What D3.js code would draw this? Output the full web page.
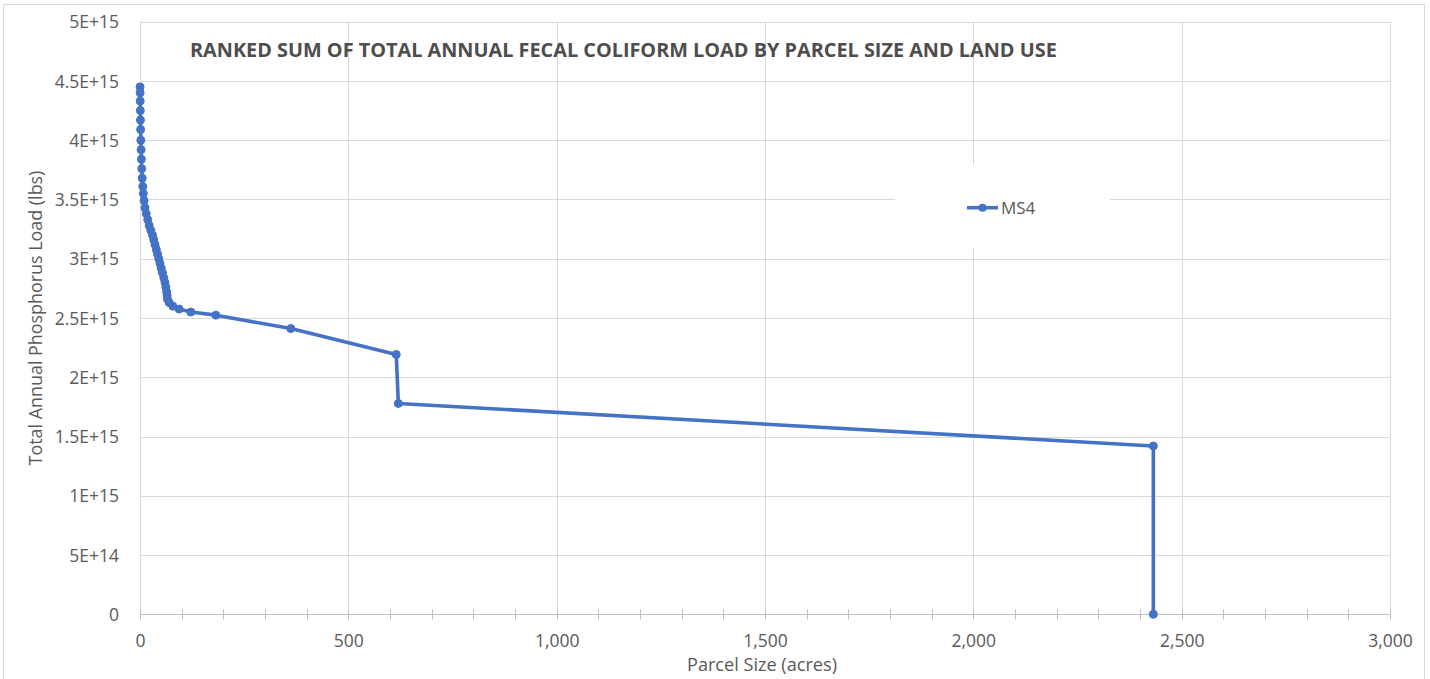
<!DOCTYPE html>
<html>
<head>
<meta charset="utf-8">
<script src="https://cdn.jsdelivr.net/npm/d3@7"></script>
<style>
  html, body { margin: 0; padding: 0; background: #ffffff; }
  svg { display: block; font-family: "Open Sans", "Noto Sans", sans-serif; }
</style>
</head>
<body>
<svg id="chart" width="1430" height="679"></svg>
<script>
// ---- data ----
const parcelSize = [0.1, 0.3, 0.5, 0.8, 1.1, 1.5, 2.0, 2.6, 3.3, 4.2, 5.3, 6.6, 8.0, 9.8, 12, 15, 18.5,
  22, 26, 30, 33, 36, 39, 42, 45, 48, 51, 54, 57, 60, 62, 64, 65, 66, 70, 79, 94, 122, 182, 362, 615, 620, 2432, 2432];
const annualLoad = [4.45e15, 4.40e15, 4.33e15, 4.25e15, 4.17e15, 4.09e15, 4.00e15, 3.92e15, 3.84e15, 3.76e15,
  3.68e15, 3.61e15, 3.55e15, 3.49e15, 3.43e15, 3.38e15, 3.33e15, 3.28e15, 3.24e15, 3.20e15, 3.16e15, 3.12e15,
  3.08e15, 3.04e15, 3.00e15, 2.96e15, 2.92e15, 2.88e15, 2.84e15, 2.80e15, 2.76e15, 2.72e15, 2.69e15, 2.66e15,
  2.63e15, 2.60e15, 2.575e15, 2.55e15, 2.524e15, 2.411e15, 2.192e15, 1.779e15, 1.42e15, 0];
const seriesName = "MS4";
const xTicks = [0, 500, 1000, 1500, 2000, 2500, 3000];
const xTickLabels = ["0", "500", "1,000", "1,500", "2,000", "2,500", "3,000"];
const xMinorTicks = d3.range(0, 3001, 100);
const yTicks = [0, 5e14, 1e15, 1.5e15, 2e15, 2.5e15, 3e15, 3.5e15, 4e15, 4.5e15, 5e15];
const yTickLabels = ["0", "5E+14", "1E+15", "1.5E+15", "2E+15", "2.5E+15", "3E+15", "3.5E+15", "4E+15", "4.5E+15", "5E+15"];
const chartTitle = "RANKED SUM OF TOTAL ANNUAL FECAL COLIFORM LOAD BY PARCEL SIZE AND LAND USE";
const xAxisTitle = "Parcel Size (acres)";
const yAxisTitle = "Total Annual Phosphorus Load (lbs)";

// ---- layout ----
const svg = d3.select("#chart");
const plot = { left: 140, right: 1390, top: 21.7, bottom: 614.3 };
const blue = "#4472C4";
const grid = "#d9d9d9";
const textCol = "#595959";

const x = d3.scaleLinear().domain([0, 3000]).range([plot.left, plot.right]);
const y = d3.scaleLinear().domain([0, 5e15]).range([plot.bottom, plot.top]);

// chart border
svg.append("rect").attr("x", 3.5).attr("y", 4.5).attr("width", 1421).attr("height", 690)
  .attr("fill", "#fff").attr("stroke", "#d9d9d9").attr("stroke-width", 1);

// gridlines
svg.append("g").selectAll("line").data(yTicks).join("line")
  .attr("x1", plot.left).attr("x2", plot.right)
  .attr("y1", d => Math.round(y(d)) + 0.5).attr("y2", d => Math.round(y(d)) + 0.5)
  .attr("stroke", grid).attr("stroke-width", 1);
svg.append("g").selectAll("line").data(xTicks).join("line")
  .attr("x1", d => Math.round(x(d)) + 0.5).attr("x2", d => Math.round(x(d)) + 0.5)
  .attr("y1", plot.top).attr("y2", plot.bottom)
  .attr("stroke", grid).attr("stroke-width", 1);

// x axis line and minor cross ticks
const axisY = Math.round(y(0)) + 0.5;
svg.append("line").attr("x1", plot.left).attr("x2", plot.right).attr("y1", axisY).attr("y2", axisY)
  .attr("stroke", "#bfbfbf").attr("stroke-width", 1);
svg.append("g").selectAll("line").data(xMinorTicks).join("line")
  .attr("x1", d => Math.round(x(d)) + 0.5).attr("x2", d => Math.round(x(d)) + 0.5)
  .attr("y1", axisY - 5).attr("y2", axisY + 5)
  .attr("stroke", "#bfbfbf").attr("stroke-width", 1);

// x tick labels via d3 axis
const xAxis = d3.axisBottom(x).tickValues(xTicks).tickFormat((d, i) => xTickLabels[i]).tickSize(0).tickPadding(0);
const gx = svg.append("g").attr("transform", `translate(0, ${plot.bottom})`).call(xAxis);
gx.select(".domain").remove();
gx.selectAll("text").attr("y", 33).attr("dy", null).attr("fill", textCol)
  .style("font-size", "17.5px").style("font-family", '"Open Sans", sans-serif');

// y tick labels via d3 axis
const yAxis = d3.axisLeft(y).tickValues(yTicks).tickFormat((d, i) => yTickLabels[i]).tickSize(0).tickPadding(0);
const gy = svg.append("g").attr("transform", `translate(119, 0)`).call(yAxis);
gy.select(".domain").remove();
gy.selectAll("text").attr("x", 0).attr("dy", "0.35em").attr("fill", textCol)
  .style("font-size", "17.5px").style("font-family", '"Open Sans", sans-serif');

// series line and markers
const pts = parcelSize.map((v, i) => [v, annualLoad[i]]);
const line = d3.line().x(d => x(d[0])).y(d => y(d[1]));
svg.append("path").datum(pts).attr("d", line)
  .attr("fill", "none").attr("stroke", blue).attr("stroke-width", 3.6)
  .attr("stroke-linejoin", "round").attr("stroke-linecap", "round");
svg.append("g").selectAll("circle").data(pts).join("circle")
  .attr("cx", d => x(d[0])).attr("cy", d => y(d[1])).attr("r", 4)
  .attr("fill", blue).attr("stroke", blue).attr("stroke-width", 1);

// title
const t = svg.append("text").attr("x", 190).attr("y", 56.5)
  .attr("fill", "#4d4d4d").style("font-weight", "bold").style("font-size", "18px").text(chartTitle);
const tw = t.node().getComputedTextLength();
t.style("font-size", (18 * 867 / tw).toFixed(2) + "px");

// legend
svg.append("rect").attr("x", 895).attr("y", 165).attr("width", 215).attr("height", 83).attr("fill", "#fff");
svg.append("line").attr("x1", 967).attr("x2", 998).attr("y1", 207.7).attr("y2", 207.7)
  .attr("stroke", blue).attr("stroke-width", 3.6);
svg.append("circle").attr("cx", 982.5).attr("cy", 207.7).attr("r", 4).attr("fill", blue);
svg.append("text").attr("x", 1001).attr("y", 213.5).attr("fill", textCol)
  .style("font-size", "17px").text(seriesName);

// axis titles
const xt = svg.append("text").attr("x", 762).attr("y", 671).attr("text-anchor", "middle")
  .attr("fill", textCol).style("font-size", "16px").text(xAxisTitle);
const xtw = xt.node().getComputedTextLength();
xt.style("font-size", (16 * 150 / xtw).toFixed(2) + "px");

const yt = svg.append("text").attr("transform", "translate(42, 318) rotate(-90)").attr("text-anchor", "middle")
  .attr("fill", textCol).style("font-size", "16px").text(yAxisTitle);
const ytw = yt.node().getComputedTextLength();
yt.style("font-size", (16 * 295 / ytw).toFixed(2) + "px");
</script>
</body>
</html>
